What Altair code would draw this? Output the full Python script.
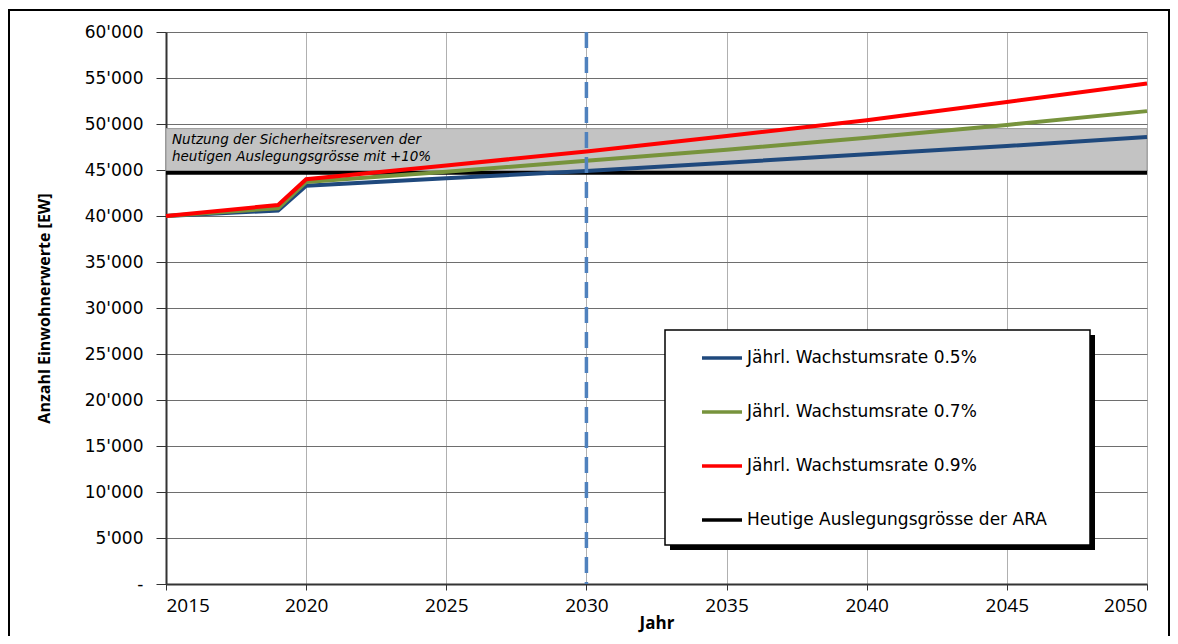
import altair as alt
import pandas as pd

years = [2015, 2019, 2020, 2025, 2030, 2035, 2040, 2045, 2050]
blue_vals = [40000, 40600, 43300, 44100, 44900, 45800, 46700, 47600, 48600]
green_vals = [40000, 40850, 43700, 44800, 46000, 47200, 48500, 49900, 51400]
red_vals = [40000, 41200, 44000, 45500, 47000, 48700, 50400, 52400, 54400]
ara_years = [2015, 2050]
ara_vals = [44700, 44700]
band_low = 44700
band_high = 49500
marker_year = 2030

names = ["Jährl. Wachstumsrate 0.5%", "Jährl. Wachstumsrate 0.7%",
         "Jährl. Wachstumsrate 0.9%", "Heutige Auslegungsgrösse der ARA"]
colors = ["#1f497d", "#77933c", "#ff0000", "#000000"]

y_ticks = list(range(0, 60001, 5000))
x_ticks = list(range(2015, 2051, 5))

annot_text = "Nutzung der Sicherheitsreserven der\nheutigen Auslegungsgrösse mit +10%"

rows = []
for name, vals in zip(names[:3], [blue_vals, green_vals, red_vals]):
    for yr, v in zip(years, vals):
        rows.append({"Jahr": yr, "EW": v, "Serie": name})
lines_df = pd.DataFrame(rows)
ara_df = pd.DataFrame({"Jahr": ara_years, "EW": ara_vals, "Serie": names[3]})

W, H = 981, 552

color_scale = alt.Scale(domain=names, range=colors)
xs = alt.Scale(domain=[2015, 2050], nice=False)
ys = alt.Scale(domain=[0, 60000], nice=False)

legend = alt.Legend(
    title=None, orient="none", legendX=499, legendY=298, padding=6,
    symbolType="stroke", symbolSize=1600, symbolStrokeWidth=3.5, symbolOffset=29,
    labelFont="DejaVu Sans", labelFontSize=17, labelColor="black",
    rowPadding=24, labelOffset=3, labelLimit=500,
)

x_axis = alt.Axis(values=x_ticks, format="d", title="Jahr", grid=True,
                  gridColor="#b0b0b0", gridWidth=1, domainColor="#333333",
                  domainWidth=2, tickColor="#333333", tickSize=6,
                  labelFont="Open Sans", labelFontSize=19, labelColor="black",
                  labelPadding=6, titleFont="Open Sans", titleFontSize=17,
                  titleFontWeight="bold", titleColor="black", titlePadding=0)
y_axis = alt.Axis(values=y_ticks, title="Anzahl Einwohnerwerte [EW]", grid=True,
                  gridColor="#6e6e6e", gridWidth=1, domainColor="#333333",
                  domainWidth=2, tickColor="#333333", tickSize=10,
                  labelFont="DejaVu Sans", labelFontSize=17, labelColor="black",
                  labelPadding=13,
                  labelExpr="datum.value == 0 ? '-' : replace(format(datum.value, ','), ',', \"'\")",
                  titleFont="Open Sans", titleFontSize=16, titleFontWeight="bold",
                  titleColor="black", titleX=-114)

band_df = pd.DataFrame({"x1": [2015], "x2": [2050], "y1": [band_low], "y2": [band_high]})
band = alt.Chart(band_df).mark_rect(fill="#c3c3c3", stroke="#9a9a9a", strokeWidth=1).encode(
    x=alt.X("x1:Q", scale=xs, axis=x_axis), x2="x2:Q",
    y=alt.Y("y1:Q", scale=ys, axis=y_axis), y2="y2:Q")

ara = alt.Chart(ara_df).mark_line(strokeWidth=4).encode(
    x=alt.X("Jahr:Q", scale=xs), y=alt.Y("EW:Q", scale=ys),
    color=alt.Color("Serie:N", scale=color_scale, legend=legend, sort=names))

series_layers = []
for name in names[:3]:
    series_layers.append(
        alt.Chart(lines_df[lines_df["Serie"] == name]).mark_line(strokeWidth=4).encode(
            x=alt.X("Jahr:Q", scale=xs), y=alt.Y("EW:Q", scale=ys),
            color=alt.Color("Serie:N", scale=color_scale, legend=legend, sort=names)))

annot_df = pd.DataFrame({"Jahr": [2015], "EW": [48300], "t": [annot_text]})
annot = alt.Chart(annot_df).mark_text(
    align="left", baseline="middle", dx=6, lineBreak="\n", lineHeight=17,
    fontStyle="italic", fontSize=13.5, font="DejaVu Sans", color="black").encode(
    x=alt.X("Jahr:Q", scale=xs), y=alt.Y("EW:Q", scale=ys), text="t:N")

vline_df = pd.DataFrame({"Jahr": [marker_year]})
vline = alt.Chart(vline_df).mark_rule(color="#4f81bd", strokeWidth=3.5, strokeDash=[16, 9]).encode(
    x=alt.X("Jahr:Q", scale=xs))

deco = pd.DataFrame({"a": [0]})
shadow = alt.Chart(deco).mark_rect(fill="black", clip=False).encode(
    x=alt.value(504), x2=alt.value(929), y=alt.value(303), y2=alt.value(518))
legend_box = alt.Chart(deco).mark_rect(fill="white", stroke="black", strokeWidth=1.5, clip=False).encode(
    x=alt.value(499), x2=alt.value(924), y=alt.value(298), y2=alt.value(513))

frame = alt.Chart(deco).mark_rect(
    fill=None, stroke="black", strokeWidth=2, clip=False).encode(
    x=alt.value(-157), x2=alt.value(W + 22), y=alt.value(-22), y2=alt.value(H + 80))

chart = alt.layer(band, ara, *series_layers, annot, vline, shadow, legend_box, frame).properties(
    width=W, height=H,
    autosize=alt.AutoSizeParams(type="none"),
    padding={"left": 158, "top": 24, "right": 23, "bottom": 52},
).configure_view(stroke="#555555", strokeWidth=1.5).configure(background="white")

chart.save("out.html", embed_options={"renderer": "svg", "actions": False})
